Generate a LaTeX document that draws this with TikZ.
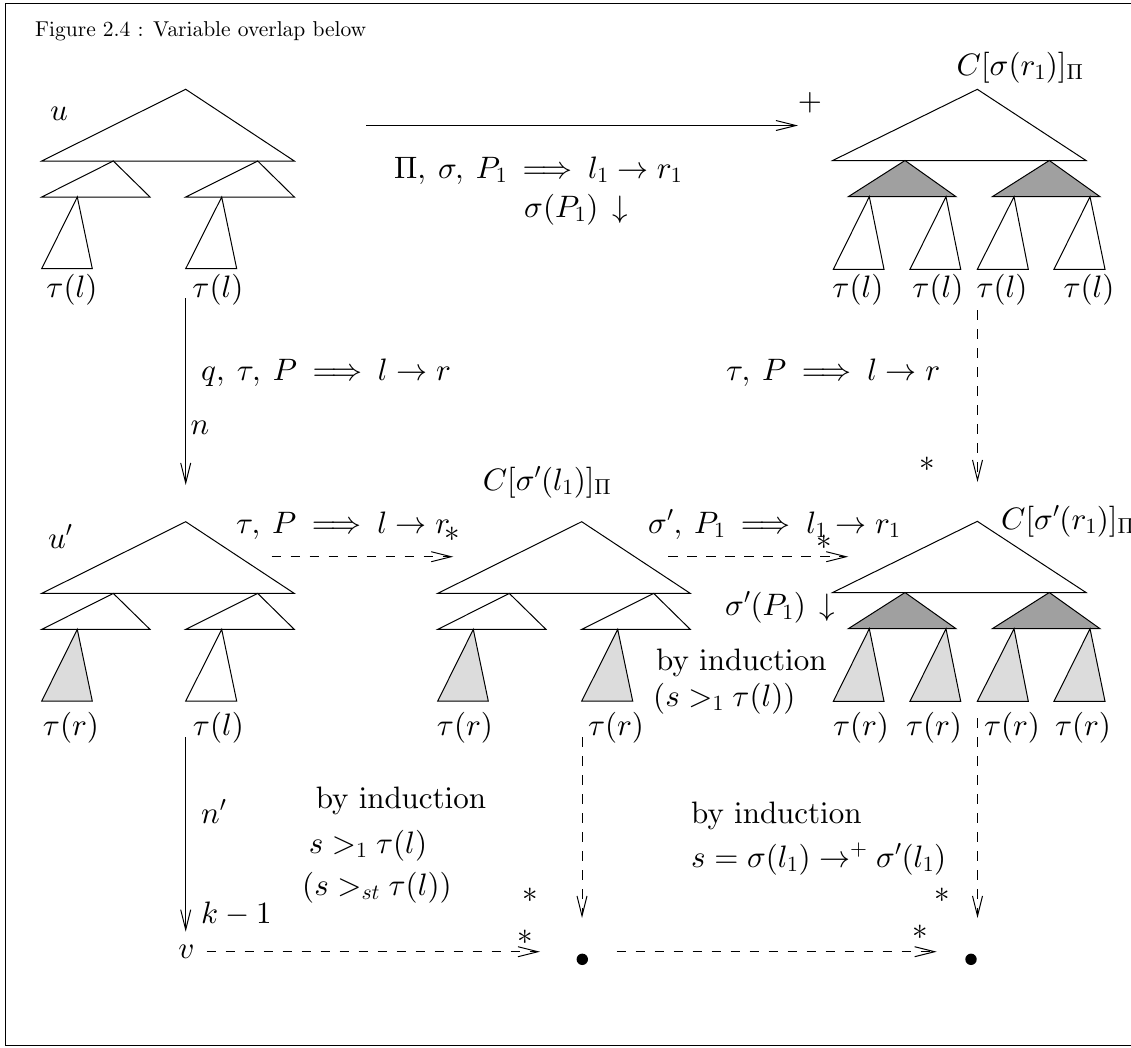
\RequirePackage{fix-cm}
\documentclass[tikz,border=0pt]{standalone}
\usetikzlibrary{arrows.meta}
\DeclareFontShape{OT1}{cmr}{m}{n}{<->cmr10}{}
\DeclareFontShape{OML}{cmm}{m}{it}{<->cmmi10}{}
\DeclareFontShape{OMS}{cmsy}{m}{n}{<->cmsy10}{}
\DeclareFontShape{OMX}{cmex}{m}{n}{<->cmex10}{}
\definecolor{dgray}{HTML}{A0A0A0}
\definecolor{lgray}{HTML}{DCDCDC}
\newcommand{\twotree}[3]{%
  \begin{scope}[shift={#1}]
    \draw[tri] (0,0) -- (-144,71.7) -- (108.6,71.7) -- cycle;
    \draw[tri] (-72.4,71.7) -- (-144,107.7) -- (-35.7,107.7) -- cycle;
    \draw[tri] (72,71.7) -- (0,107.7) -- (108.6,107.7) -- cycle;
    \draw[tri, fill=#2] (-108.4,107.7) -- (-144,179.4) -- (-93.4,179.4) -- cycle;
    \draw[tri, fill=#3] (36,107.7) -- (0,179.4) -- (51,179.4) -- cycle;
  \end{scope}}
\newcommand{\fourtree}[2]{%
  \begin{scope}[shift={#1}]
    \draw[tri] (0,0) -- (-144.6,71.2) -- (108.7,71.2) -- cycle;
    \draw[tri, fill=dgray] (-72.3,71.2) -- (-129,107.4) -- (-21.3,107.4) -- cycle;
    \draw[tri, fill=dgray] (72,71.2) -- (15,107.4) -- (122.7,107.4) -- cycle;
    \draw[tri, fill=#2] (-108,107.4) -- (-144,180) -- (-93.3,180) -- cycle;
    \draw[tri, fill=#2] (-31.3,107.4) -- (-67.3,180) -- (-16.6,180) -- cycle;
    \draw[tri, fill=#2] (36.7,107.4) -- (0,180) -- (51,180) -- cycle;
    \draw[tri, fill=#2] (112.7,107.4) -- (76.7,180) -- (127.7,180) -- cycle;
  \end{scope}}
\begin{document}
\begin{tikzpicture}[x=1pt,y=-1pt,
  every node/.style={inner sep=0pt},
  lab/.style={font=\fontencoding{OT1}\fontfamily{cmr}\fontsize{31}{37}\selectfont},
  ttl/.style={font=\fontencoding{OT1}\fontfamily{cmr}\fontsize{21.5}{26}\selectfont},
  ln/.style={line width=1pt},
  dsh/.style={line width=1pt, dash pattern=on 9.5pt off 9.5pt},
  arr/.style={-{Straight Barb[length=20pt,width=10pt]}},
  tri/.style={line width=1pt, fill=white, line join=miter},
  dotnode/.style={circle, fill=black, minimum size=11.4pt}]
\clip (0,0) rectangle (1131,1047);
% frame
\draw[ln] (1140,3.5) -- (5,3.5) -- (5,1045.5) -- (1140,1045.5);
% title
\node[ttl, anchor=base west] (title) at (35,36) {Figure 2.4 : Variable overlap below};
% trees
\coordinate (treeU) at (185.7,89.3);
\coordinate (treeUp) at (185.7,521.7);
\coordinate (treeM) at (581.7,521.7);
\coordinate (treeR) at (977.3,89.3);
\coordinate (treeRp) at (977.3,521.3);
\twotree{(treeU)}{white}{white}
\twotree{(treeUp)}{lgray}{white}
\twotree{(treeM)}{lgray}{lgray}
\fourtree{(treeR)}{white}
\fourtree{(treeRp)}{lgray}
% top row labels
\node[lab, anchor=base west] (u) at (50,120) {$u$};
\node[lab, anchor=base] (tl1) at (72,297) {$\tau(l)$};
\node[lab, anchor=base] (tl2) at (218,297) {$\tau(l)$};
\node[lab, anchor=base] (tl3) at (858,297) {$\tau(l)$};
\node[lab, anchor=base] (tl4) at (938,297) {$\tau(l)$};
\node[lab, anchor=base] (tl5) at (1002,297) {$\tau(l)$};
\node[lab, anchor=base] (tl6) at (1089,297) {$\tau(l)$};
\node[lab, anchor=base] (Csr) at (1020,75) {$C[\sigma(r_1)]_\Pi$};
\node[lab] (plus) at (810,103) {$+$};
\node[lab, anchor=base west] (rule1) at (394,178) {$\Pi,\:\sigma,\:P_1\:\Longrightarrow\:l_1\rightarrow r_1$};
\node[lab, anchor=base west] (sigP) at (524,217) {$\sigma(P_1)\,\downarrow$};
% middle labels
\node[lab, anchor=base west] (qrule) at (201,380) {$q,\:\tau,\:P\:\Longrightarrow\:l\rightarrow r$};
\node[lab] (n) at (200,428) {$n$};
\node[lab, anchor=base west] (trule) at (726,380) {$\tau,\:P\:\Longrightarrow\:l\rightarrow r$};
\node[lab] (st1) at (927,464) {$*$};
% middle row labels
\node[lab, anchor=base west] (up) at (48,548) {$u'$};
\node[lab, anchor=base west] (trule2) at (236,533) {$\tau,\:P\:\Longrightarrow\:l\rightarrow r$};
\node[lab] (st2) at (452,534) {$*$};
\node[lab, anchor=base] (Csl) at (547,490) {$C[\sigma'(l_1)]_\Pi$};
\node[lab, anchor=base west] (srule) at (648,533) {$\sigma',\:P_1\:\Longrightarrow\:l_1\rightarrow r_1$};
\node[lab] (st3) at (824,542) {$*$};
\node[lab, anchor=base west] (Csr2) at (1001,529) {$C[\sigma'(r_1)]_\Pi$};
\node[lab, anchor=base west] (sP) at (725,615) {$\sigma'(P_1)\,\downarrow$};
\node[lab, anchor=base west] (bi1) at (656,670) {by induction};
\node[lab, anchor=base west] (bi1b) at (653,706) {$(s>_1\tau(l))$};
\node[lab, anchor=base] (tr1) at (71,735) {$\tau(r)$};
\node[lab, anchor=base] (tl7) at (218.5,735) {$\tau(l)$};
\node[lab, anchor=base] (tr2) at (465,735) {$\tau(r)$};
\node[lab, anchor=base] (tr3) at (616,735) {$\tau(r)$};
\node[lab, anchor=base] (tr4) at (861,735) {$\tau(r)$};
\node[lab, anchor=base] (tr5) at (934,735) {$\tau(r)$};
\node[lab, anchor=base] (tr6) at (1012,735) {$\tau(r)$};
\node[lab, anchor=base] (tr7) at (1083,735) {$\tau(r)$};
% bottom labels
\node[lab, anchor=base west] (np) at (201,823) {$n'$};
\node[lab, anchor=base west] (k1) at (201,923) {$k-1$};
\node[lab, anchor=base] (bi2) at (401,808) {by induction};
\node[lab, anchor=base] (s1) at (368,853) {$s>_1\tau(l)$};
\node[lab, anchor=base] (s2) at (377,895) {$(s>_{st}\tau(l))$};
\node[lab, anchor=base] (v) at (186.5,958) {$v$};
\node[lab] (st4) at (530.7,895) {$*$};
\node[lab] (st5) at (525,937) {$*$};
\node[lab] (st6) at (942,895) {$*$};
\node[lab] (st7) at (920,932) {$*$};
\node[lab, anchor=base west] (bi3) at (691,823) {by induction};
\node[lab, anchor=base west] (s3) at (691,867) {$s=\sigma(l_1)\rightarrow^+\sigma'(l_1)$};
\node[dotnode] (d1) at (582.3,959.3) {};
\node[dotnode] (d2) at (971,959.3) {};
% arrow end points
\coordinate (a1s) at (366,125.5);  \coordinate (a1e) at (798,125.5);
\coordinate (a2s) at (185.7,298);  \coordinate (a2e) at (185.7,485);
\coordinate (a3s) at (977.5,310);  \coordinate (a3e) at (977.5,482);
\coordinate (a4s) at (271.7,556.7); \coordinate (a4e) at (453.3,556.7);
\coordinate (a5s) at (668.3,556.7); \coordinate (a5e) at (848.3,556.7);
\coordinate (a6s) at (185.7,737);  \coordinate (a6e) at (185.7,931.7);
\coordinate (a7s) at (582,737);    \coordinate (a7e) at (582,918);
\coordinate (a8s) at (977.5,718);  \coordinate (a8e) at (977.5,918);
\coordinate (a9s) at (206.7,951.7); \coordinate (a9e) at (540,951.7);
\coordinate (a10s) at (616.7,951.7); \coordinate (a10e) at (936.7,951.7);
% arrows
\draw[ln, arr] (a1s) -- (a1e);
\draw[ln, arr] (a2s) -- (a2e);
\draw[dsh, arr] (a3s) -- (a3e);
\draw[dsh, arr] (a4s) -- (a4e);
\draw[dsh, arr] (a5s) -- (a5e);
\draw[ln, arr] (a6s) -- (a6e);
\draw[dsh, arr] (a7s) -- (a7e);
\draw[dsh, arr] (a8s) -- (a8e);
\draw[dsh, arr] (a9s) -- (a9e);
\draw[dsh, arr] (a10s) -- (a10e);
\end{tikzpicture}
\end{document}
